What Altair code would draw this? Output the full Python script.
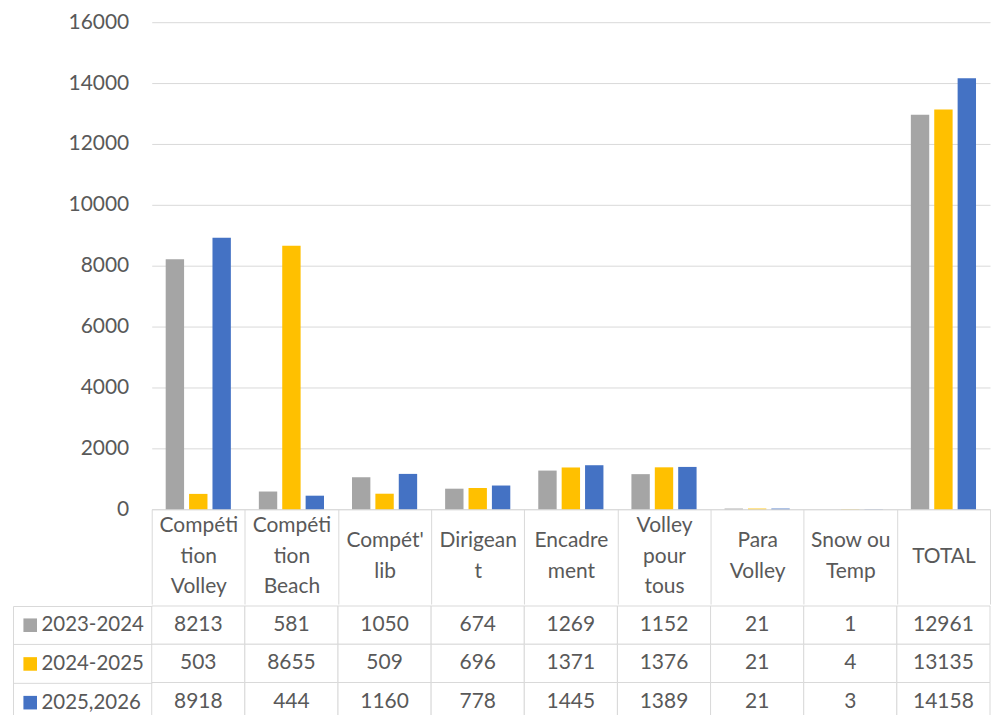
import json
import altair as alt
import pandas as pd

categories = ["Compétition Volley", "Compétition Beach", "Compét' lib", "Dirigeant",
              "Encadrement", "Volley pour tous", "Para Volley", "Snow ou Temp", "TOTAL"]
header_labels = ["Compéti|tion|Volley", "Compéti|tion|Beach", "Compét'|lib", "Dirigean|t",
                 "Encadre|ment", "Volley|pour|tous", "Para|Volley", "Snow ou|Temp", "TOTAL"]
series = ["2023-2024", "2024-2025", "2025,2026"]
values_2023_2024 = [8213, 581, 1050, 674, 1269, 1152, 21, 1, 12961]
values_2024_2025 = [503, 8655, 509, 696, 1371, 1376, 21, 4, 13135]
values_2025_2026 = [8918, 444, 1160, 778, 1445, 1389, 21, 3, 14158]
colors = ["#A5A5A5", "#FFC000", "#4472C4"]
y_ticks = [0, 2000, 4000, 6000, 8000, 10000, 12000, 14000, 16000]

rows = []
for s, vals in zip(series, [values_2023_2024, values_2024_2025, values_2025_2026]):
    for c, v in zip(categories, vals):
        rows.append({"category": c, "series": s, "value": v})
df = pd.DataFrame(rows)

FONT = "Lato"
FS = 21
TXT = "#595959"
GRID = "#D9D9D9"
PLOT_W = 840
LABEL_COL = 139
LINE_H = 30.5
HEADER_H = 95

label_expr = ("indexof({cats}, datum.label) < 0 ? '' : "
              "split({labs}[indexof({cats}, datum.label)], '|')").format(
    cats=json.dumps(categories, ensure_ascii=False),
    labs=json.dumps(header_labels, ensure_ascii=False))

# centre each wrapped header label vertically in the header row
n_lines = [len(h.split("|")) for h in header_labels]
base_pad = -HEADER_H / 2 - 0.5
two_line = [c for c, n in zip(categories, n_lines) if n == 2]
one_line = [c for c, n in zip(categories, n_lines) if n == 1]
label_pad = {
    "condition": [
        {"test": "indexof({}, datum.value) >= 0".format(json.dumps(two_line, ensure_ascii=False)),
         "value": base_pad - LINE_H / 2},
        {"test": "indexof({}, datum.value) >= 0".format(json.dumps(one_line, ensure_ascii=False)),
         "value": base_pad},
    ],
    "value": base_pad - LINE_H,
}

bars = alt.Chart(df).mark_bar().encode(
    x=alt.X("category:N", sort=categories,
            scale=alt.Scale(paddingInner=0, paddingOuter=0),
            axis=alt.Axis(title=None, labelExpr=label_expr, labelAngle=0, labelFont=FONT,
                          labelFontSize=FS, labelColor=TXT, labelLineHeight=LINE_H,
                          labelBaseline="middle", labelPadding=label_pad, labelLimit=0,
                          domainColor=GRID, domainWidth=1, ticks=True, tickBand="extent",
                          tickSize=HEADER_H, tickColor=GRID, tickWidth=1, grid=False)),
    xOffset=alt.XOffset("series:N", sort=series,
                        scale=alt.Scale(paddingInner=0.214, paddingOuter=0.598)),
    y=alt.Y("value:Q", scale=alt.Scale(domain=[0, 16000], nice=False),
            axis=alt.Axis(title=None, values=y_ticks, grid=True, gridColor=GRID, gridWidth=1,
                          domain=False, ticks=False, labelPadding=23, labelFont=FONT,
                          labelFontSize=FS, labelColor=TXT, format="d")),
    color=alt.Color("series:N", sort=series, scale=alt.Scale(domain=series, range=colors),
                    legend=alt.Legend(title=None, orient="none", legendX=-132, legendY=594,
                                      direction="vertical", symbolType="square",
                                      symbolSize=185, symbolStrokeWidth=0, symbolOpacity=1,
                                      labelFont=FONT, labelFontSize=20.5, labelColor=TXT,
                                      labelOffset=1, rowPadding=17.8, padding=0)),
).properties(width=PLOT_W, height=488)

cells = alt.Chart(df).mark_rect(fill="white", stroke=GRID, strokeWidth=1).encode(
    x=alt.X("category:N", sort=categories, scale=alt.Scale(paddingInner=0, paddingOuter=0),
            axis=None),
    y=alt.Y("series:N", sort=series, scale=alt.Scale(paddingInner=0, paddingOuter=0),
            axis=alt.Axis(title=None, orient="left", labels=False, domain=False, ticks=True,
                          tickBand="extent", tickSize=LABEL_COL, tickColor=GRID, tickWidth=1,
                          grid=False)),
)
texts = alt.Chart(df).mark_text(font=FONT, fontSize=FS, color=TXT, baseline="middle",
                                align="center").encode(
    x=alt.X("category:N", sort=categories, axis=None),
    y=alt.Y("series:N", sort=series,
            axis=alt.Axis(title=None, orient="left", offset=LABEL_COL, labels=False,
                          ticks=False, domain=True, domainColor=GRID, domainWidth=1,
                          grid=False)),
    text=alt.Text("value:Q", format="d"),
)
table = alt.layer(cells, texts).resolve_axis(y="independent").properties(
    width=PLOT_W, height=115)

chart = alt.vconcat(bars, table, spacing=0).resolve_scale(
    x="independent", y="independent"
).configure_view(strokeWidth=0).properties(
    padding={"left": 4, "top": 2.5, "right": 0, "bottom": 0}, background="white"
)

chart.save("out.html", embed_options={"renderer": "svg", "actions": False})
